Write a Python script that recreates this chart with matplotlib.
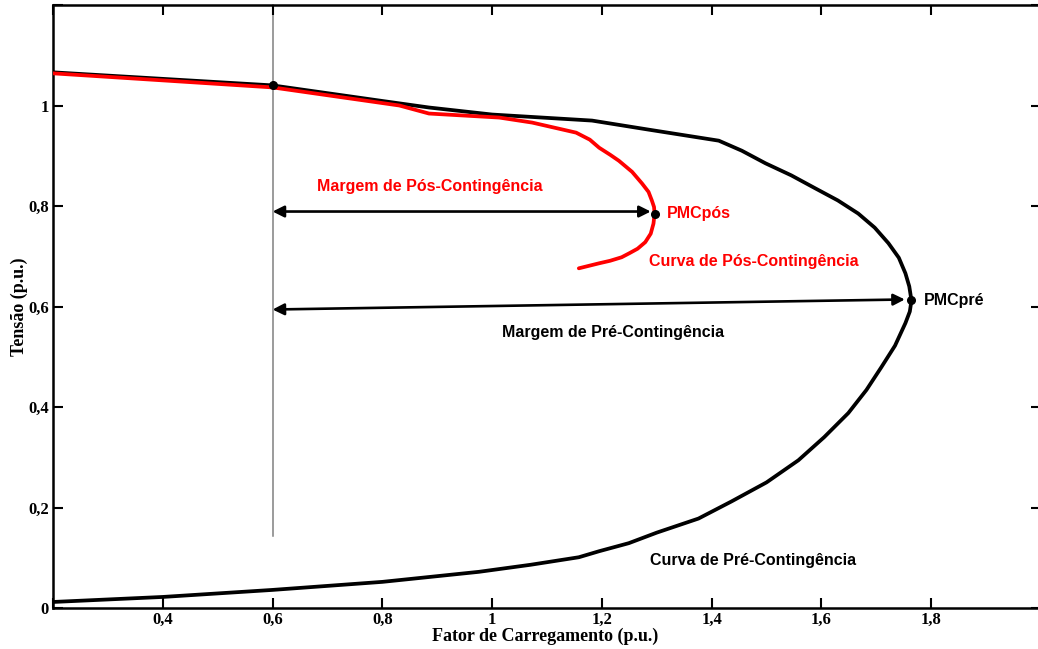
import matplotlib
matplotlib.use("Agg")
import matplotlib.pyplot as plt

# ---- data ----
x_pre = [0.2, 0.4, 0.6, 0.8, 0.885, 1.0, 1.182, 1.285, 1.413, 1.455, 1.498, 1.545, 1.589,
         1.630, 1.667, 1.697, 1.722, 1.741, 1.753, 1.760, 1.764, 1.761, 1.753, 1.734,
         1.709, 1.682, 1.649, 1.605, 1.558, 1.50, 1.436, 1.376, 1.30, 1.249, 1.195,
         1.158, 1.07, 0.976, 0.8, 0.6, 0.4, 0.2]
v_pre = [1.066, 1.053, 1.040, 1.009, 0.996, 0.982, 0.970, 0.952, 0.930, 0.910, 0.885, 0.861,
         0.835, 0.811, 0.785, 0.757, 0.726, 0.697, 0.666, 0.640, 0.612, 0.590, 0.567, 0.522,
         0.479, 0.434, 0.388, 0.340, 0.294, 0.250, 0.212, 0.178, 0.150, 0.129, 0.113,
         0.101, 0.086, 0.072, 0.052, 0.036, 0.022, 0.012]

x_pos = [0.2, 0.4, 0.6, 0.831, 0.885, 1.013, 1.073, 1.153, 1.178, 1.195, 1.215, 1.231,
         1.255, 1.273, 1.285, 1.291, 1.295, 1.296, 1.294, 1.289, 1.279, 1.265, 1.250,
         1.236, 1.215, 1.195, 1.158]
v_pos = [1.064, 1.050, 1.036, 1.0, 0.984, 0.976, 0.966, 0.946, 0.932, 0.916, 0.902, 0.89,
         0.868, 0.845, 0.828, 0.811, 0.798, 0.785, 0.765, 0.745, 0.728, 0.715, 0.706,
         0.698, 0.691, 0.686, 0.676]

base_point = (0.6, 1.040)
pmc_pos = (1.296, 0.785)
pmc_pre = (1.764, 0.612)

xticks = [0.2, 0.4, 0.6, 0.8, 1.0, 1.2, 1.4, 1.6, 1.8, 2.0]
xticklabels = ["", "0,4", "0,6", "0,8", "1", "1,2", "1,4", "1,6", "1,8", "2"]
yticks = [0, 0.2, 0.4, 0.6, 0.8, 1.0, 1.2]
yticklabels = ["0", "0,2", "0,4", "0,6", "0,8", "1", ""]

# ---- figure ----
fig = plt.figure(figsize=(10.38, 6.49), dpi=100)
L, R, B, T = 53, 1041, 608, 5
ax = fig.add_axes([L / 1038, 1 - B / 649, (R - L) / 1038, (B - T) / 649])
ax.set_xlim(0.2, 2.0)
ax.set_ylim(0, 1.2)

serif = "Liberation Serif"
sans = "Liberation Sans"

# vertical reference line
ax.plot([0.6, 0.6], [0.143, 1.2], color="#808080", lw=1.1, zorder=1, clip_on=False)

ax.plot(x_pre, v_pre, color="black", lw=2.7, zorder=2, solid_joinstyle="round",
        solid_capstyle="round")
ax.plot(x_pos, v_pos, color="#ff0000", lw=2.7, zorder=3, solid_joinstyle="round",
        solid_capstyle="round")

for p in (base_point, pmc_pos, pmc_pre):
    ax.plot([p[0]], [p[1]], "o", color="black", ms=5.5, zorder=5)

# arrows
arrow_kw = dict(arrowstyle="<|-|>", color="black", lw=1.9, mutation_scale=17,
                shrinkA=0, shrinkB=0)
ax.annotate("", xy=(1.289, 0.789), xytext=(0.6, 0.789), arrowprops=arrow_kw, zorder=4)
ax.annotate("", xy=(1.752, 0.614), xytext=(0.6, 0.594), arrowprops=arrow_kw, zorder=4)

# texts
tkw = dict(family=sans, fontweight="bold", fontsize=11.5, va="center")
ax.text(0.887, 0.838, "Margem de Pós-Contingência", color="#ff0000", ha="center", **tkw)
ax.text(1.318, 0.785, "PMCpós", color="#ff0000", ha="left", **tkw)
ax.text(1.286, 0.690, "Curva de Pós-Contingência", color="#ff0000", ha="left", **tkw)
ax.text(1.786, 0.612, "PMCpré", color="black", ha="left", **tkw)
ax.text(1.22, 0.549, "Margem de Pré-Contingência", color="black", ha="center", **tkw)
ax.text(1.287, 0.095, "Curva de Pré-Contingência", color="black", ha="left", **tkw)

# axes styling
for s in ax.spines.values():
    s.set_linewidth(1.8)
ax.set_xticks(xticks)
ax.set_xticklabels(xticklabels)
ax.set_yticks(yticks)
ax.set_yticklabels(yticklabels)
ax.tick_params(direction="in", length=7, width=1.5, top=True, right=True,
               labelsize=12, pad=3)
ax.tick_params(axis="y", pad=3)
for lab in ax.get_xticklabels() + ax.get_yticklabels():
    lab.set_family(serif)
    lab.set_fontweight("bold")

ax.set_xlabel("Fator de Carregamento (p.u.)", family=serif, fontweight="bold",
              fontsize=13, labelpad=0)
ax.set_ylabel("Tensão (p.u.)", family=serif, fontweight="bold", fontsize=13)
ax.yaxis.set_label_coords(-34 / (R - L), (608 - 307) / 603)
ax.xaxis.set_label_coords((545 - L) / (R - L), -(636 - 608) / 603)
ax.xaxis.label.set_va("center")
ax.yaxis.label.set_va("center")

fig.savefig("out.png", dpi=100)
